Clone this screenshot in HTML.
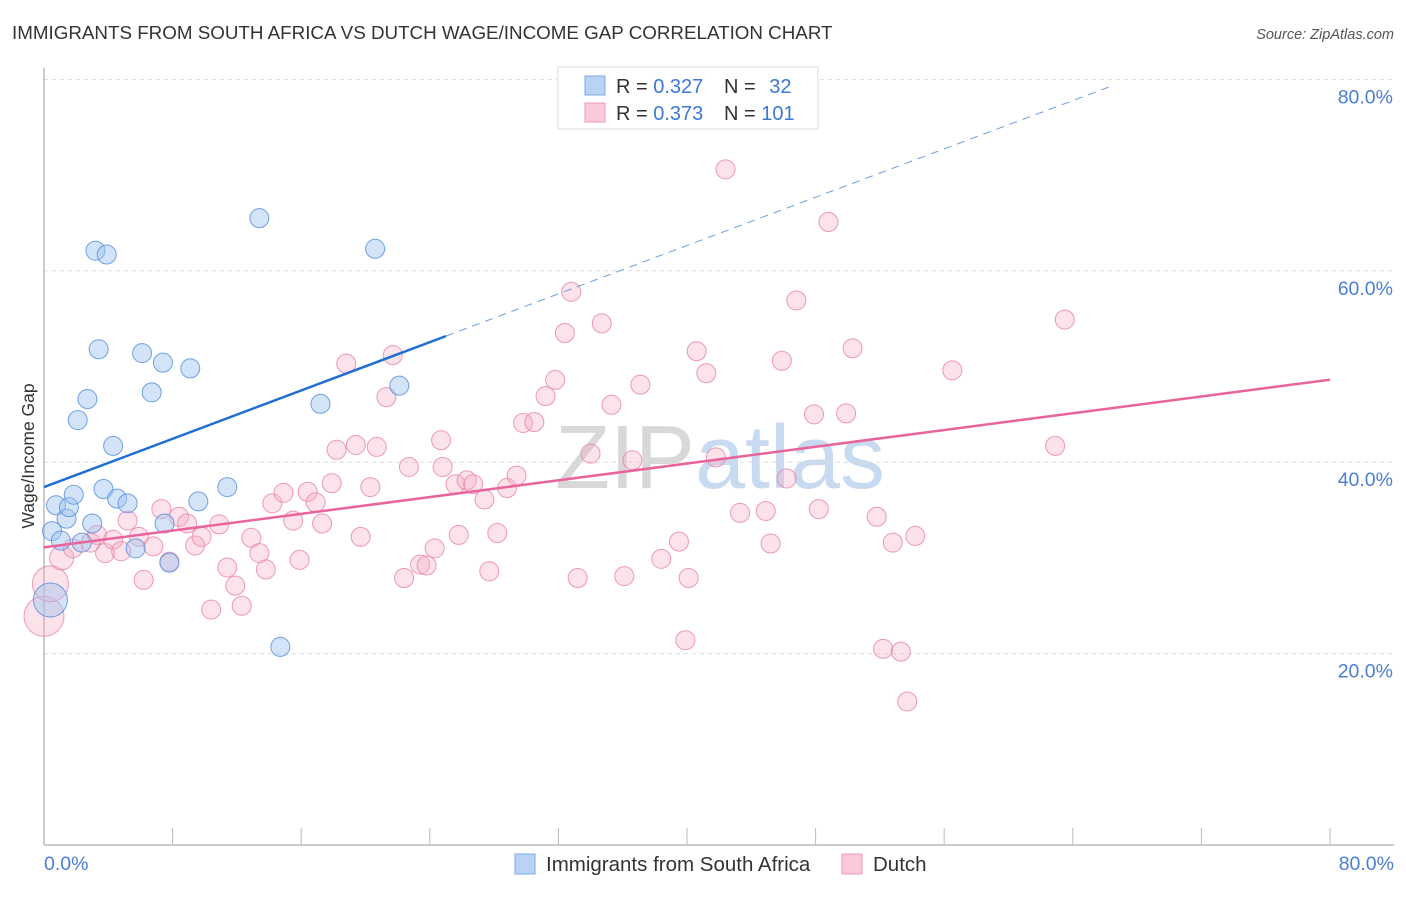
<!DOCTYPE html>
<html><head><meta charset="utf-8"><style>
body{margin:0;background:#fff;font-family:"Liberation Sans",sans-serif}
svg text{font-family:"Liberation Sans",sans-serif}
</style></head><body>
<svg id="chart" width="1406" height="892" xmlns="http://www.w3.org/2000/svg">
<text x="12" y="39" font-size="18.8" fill="#333">IMMIGRANTS FROM SOUTH AFRICA VS DUTCH WAGE/INCOME GAP CORRELATION CHART</text>
<text x="1394" y="39" font-size="14.5" fill="#555" text-anchor="end" font-style="italic">Source: ZipAtlas.com</text>
<text x="720" y="488" font-size="90" fill="#dde3ea" text-anchor="middle" font-family="Liberation Serif"><tspan fill="#d8d8d8">ZIP</tspan><tspan fill="#c8daf0" font-family="Liberation Sans">atlas</tspan></text>
<g id="grid"></g><g id="axes"></g><g id="pts"></g><g id="lines"></g>
<text transform="translate(34,456) rotate(-90)" font-size="17.5" fill="#333" text-anchor="middle">Wage/Income Gap</text>
<g>
<rect x="558" y="67" width="260" height="62" fill="#fff" stroke="#ddd"/>
<rect x="585" y="76" width="20" height="19" fill="#b9d3f5" stroke="#7aaae6"/>
<rect x="585" y="103" width="20" height="19" fill="#fbc9d8" stroke="#ec9ab7"/>
<text x="616" y="93" font-size="20" fill="#333">R = <tspan fill="#3b78d8">0.327</tspan></text>
<text x="724" y="93" font-size="20" fill="#333">N = <tspan fill="#3b78d8" dx="8">32</tspan></text>
<text x="616" y="120" font-size="20" fill="#333">R = <tspan fill="#3b78d8">0.373</tspan></text>
<text x="724" y="120" font-size="20" fill="#333">N = <tspan fill="#3b78d8">101</tspan></text>
</g>
<g>
<rect x="515" y="854" width="20" height="20" fill="#b9d3f5" stroke="#7aaae6"/>
<text x="546" y="871" font-size="20.5" fill="#333">Immigrants from South Africa</text>
<rect x="842" y="854" width="20" height="20" fill="#fbc9d8" stroke="#ec9ab7"/>
<text x="873" y="871" font-size="20.5" fill="#333">Dutch</text>
</g>
</svg>
<script>
const yTicks=[20,40,60,80];
const xTickLabels=["0.0%","80.0%"];
const blueX=[0.4,0.5,0.75,1.05,1.4,1.55,1.85,2.35,2.7,2.1,3.0,3.2,3.4,3.7,3.9,4.3,4.55,5.2,5.7,6.1,6.7,7.4,7.5,7.8,9.1,9.6,11.4,13.4,14.7,17.2,20.6,22.1];
const blueY=[25.6,32.8,35.5,31.8,34.1,35.3,36.6,31.6,46.6,44.4,33.6,62.1,51.8,37.2,61.7,41.7,36.2,35.7,31.0,51.4,47.3,50.4,33.6,29.5,49.8,35.9,37.4,65.5,20.7,46.1,62.3,48.0];
const blueR=[17,0,0,0,0,0,0,0,0,0,0,0,0,0,0,0,0,0,0,0,0,0,0,0,0,0,0,0,0,0,0,0];
const pinkX=[0,0.4,1.1,1.8,2.9,3.3,3.8,4.3,4.8,5.2,5.9,6.2,6.8,7.3,7.8,8.4,8.9,9.4,9.8,10.4,10.9,11.4,11.9,12.3,12.9,13.4,13.8,14.2,14.9,15.5,15.9,16.4,16.9,17.3,17.9,18.2,18.8,19.4,19.7,20.3,20.7,21.3,21.7,22.4,22.7,23.4,23.8,24.3,24.7,24.8,25.6,25.8,26.3,26.7,27.4,27.7,28.2,28.8,29.4,29.8,30.5,31.2,31.8,32.4,32.8,33.2,34.0,34.7,35.3,36.1,36.6,37.1,38.4,39.5,39.9,40.1,40.6,41.2,41.8,42.4,43.3,44.9,45.2,45.9,46.2,46.8,47.9,48.2,48.8,49.9,50.3,51.8,52.2,52.8,53.3,53.7,54.2,56.5,62.9,63.5];
const pinkY=[23.9,27.3,30.0,31.0,31.6,32.4,30.5,31.9,30.7,33.9,32.2,27.7,31.2,35.1,29.6,34.3,33.6,31.3,32.2,24.6,33.5,29.0,27.1,25.0,32.1,30.5,28.8,35.7,36.8,33.9,29.8,36.9,35.8,33.6,37.8,41.3,50.3,41.8,32.2,37.4,41.6,46.8,51.2,27.9,39.5,29.3,29.2,31.0,42.3,39.5,37.7,32.4,38.1,37.7,36.1,28.6,32.6,37.3,38.6,44.1,44.2,46.9,48.6,53.5,57.8,27.9,40.9,54.5,46.0,28.1,40.2,48.1,29.9,31.7,21.4,27.9,51.6,49.3,40.5,70.6,34.7,34.9,31.5,50.6,38.3,56.9,45.0,35.1,65.1,45.1,51.9,34.3,20.5,31.6,20.2,15.0,32.3,49.6,41.7,54.9];
const pinkR={0:20,1:18,2:12};
const blueLine=[37.4,0.631,0,25];
const pinkLine=[31.1,0.219,0,80];
const X=v=>44+v*16.075, Y=v=>845-v*9.57;
const NS="http://www.w3.org/2000/svg";
function mk(t,a,p){const e=document.createElementNS(NS,t);for(const k in a)e.setAttribute(k,a[k]);document.getElementById(p).appendChild(e);return e;}
yTicks.forEach(t=>{
 const g=mk('line',{x1:44,x2:1394,y1:Y(t),y2:Y(t),stroke:'#ddd','stroke-dasharray':'4,4'},'grid');
 
 
 const l=mk('text',{x:1393,y:Y(t)+24,'font-size':19.5,fill:'#4a7fd4','text-anchor':'end'},'grid');
 l.textContent=t.toFixed(1)+'%';
 
 
});
const ax=mk('line',{x1:44,x2:1394,y1:845,y2:845,stroke:'#bbb','stroke-width':1.5},'axes');


const ay=mk('line',{x1:44,x2:44,y1:68,y2:845,stroke:'#bbb','stroke-width':1.5},'axes');


for(let i=0;i<=10;i++){const t=mk('line',{x1:X(i*8),x2:X(i*8),y1:828,y2:845,stroke:'#bbb'},'axes');
 
 }
[[0,'start',44],[80,'end',1394]].forEach((d,i)=>{const t=mk('text',{x:d[2],y:870,'font-size':19.5,fill:'#4a7fd4','text-anchor':d[1]},'axes');t.textContent=xTickLabels[i];
 
 });
pinkX.forEach((x,i)=>{const c=mk('circle',{cx:X(x),cy:Y(pinkY[i]),r:pinkR[i]||9.5,fill:'rgba(246,172,196,0.35)',stroke:'rgba(232,130,165,0.8)','stroke-width':1},'pts');
 
 });
blueX.forEach((x,i)=>{const c=mk('circle',{cx:X(x),cy:Y(blueY[i]),r:blueR[i]||9.5,fill:'rgba(160,196,240,0.45)',stroke:'rgba(80,140,220,0.8)','stroke-width':1},'pts');
 
 });
const b1=mk('line',{x1:X(blueLine[2]),y1:Y(blueLine[0]),x2:X(blueLine[3]),y2:Y(blueLine[0]+blueLine[1]*blueLine[3]),stroke:'#1f6fd6','stroke-width':2.5},'lines');


const xe=66.5;
const b2=mk('line',{x1:X(blueLine[3]),y1:Y(blueLine[0]+blueLine[1]*blueLine[3]),x2:X(xe),y2:Y(blueLine[0]+blueLine[1]*xe),stroke:'#6a9fe0','stroke-width':1,'stroke-dasharray':'8,6'},'lines');


const p1=mk('line',{x1:X(pinkLine[2]),y1:Y(pinkLine[0]),x2:X(pinkLine[3]),y2:Y(pinkLine[0]+pinkLine[1]*pinkLine[3]),stroke:'#e8649a','stroke-width':2.5},'lines');


</script>
</body></html>
